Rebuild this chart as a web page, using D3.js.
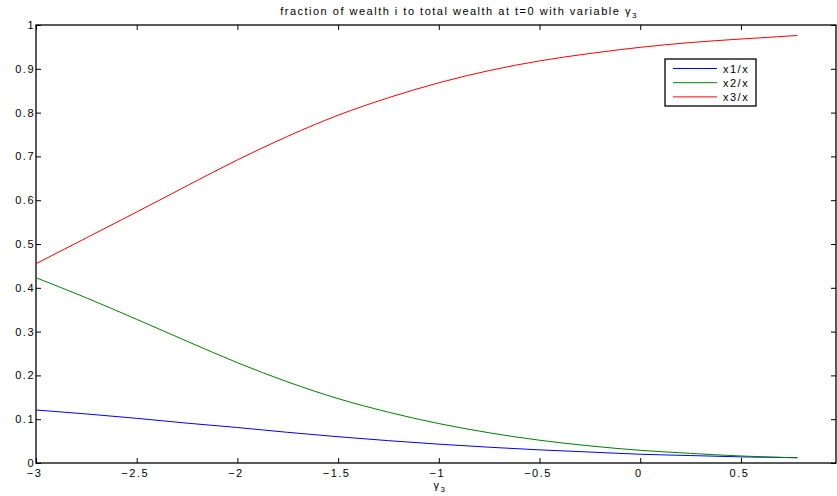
<!DOCTYPE html>
<html>
<head>
<meta charset="utf-8">
<script src="https://cdn.jsdelivr.net/npm/d3@7"></script>
<style>
  body { margin: 0; background: #fff; }
  text { font-family: "Liberation Sans", Arial, sans-serif; letter-spacing: 1.5px; }
</style>
</head>
<body>
<div id="chart"></div>
<script>
// gamma_3 values and wealth fractions
var gamma = [-3, -2.75, -2.5, -2.25, -2, -1.75, -1.5, -1.25, -1, -0.75, -0.5, -0.25, 0, 0.25, 0.5, 0.78];
var x1 = [0.121, 0.112, 0.102, 0.091, 0.081, 0.070, 0.060, 0.051, 0.043, 0.036, 0.030, 0.025, 0.020, 0.017, 0.014, 0.012];
var x2 = [0.423, 0.377, 0.328, 0.278, 0.229, 0.185, 0.147, 0.116, 0.090, 0.069, 0.052, 0.039, 0.029, 0.022, 0.016, 0.012];
var x3 = [0.455, 0.514, 0.573, 0.633, 0.692, 0.746, 0.794, 0.834, 0.868, 0.896, 0.918, 0.935, 0.949, 0.960, 0.968, 0.976];
var xTicks = [-3, -2.5, -2, -1.5, -1, -0.5, 0, 0.5];
var yTicks = [0, 0.1, 0.2, 0.3, 0.4, 0.5, 0.6, 0.7, 0.8, 0.9, 1];
var seriesNames = ["x1/x", "x2/x", "x3/x"];
var seriesColors = ["#0000ff", "#008000", "#ff0000"];

var width = 837, height = 496;
var pLeft = 36, pRight = 836, pTop = 25, pBottom = 463;

var svg = d3.select("#chart").append("svg")
    .attr("width", width).attr("height", height);

var x = d3.scaleLinear().domain([-3, 0.972]).range([pLeft, pRight]);
var y = d3.scaleLinear().domain([0, 1]).range([pBottom, pTop]);

function fmt(d) {
    return String(d).replace("-", "\u2212");
}

// inward ticks on all four sides, like matlab's box
var tl = 5;
svg.append("g").attr("class", "xax").attr("transform", "translate(0," + pBottom + ")")
    .call(d3.axisBottom(x).tickValues(xTicks).tickSize(-tl).tickPadding(6).tickFormat(fmt));
svg.append("g").attr("transform", "translate(0," + pTop + ")")
    .call(d3.axisTop(x).tickValues(xTicks).tickSize(-tl).tickFormat(""));
svg.append("g").attr("class", "yax").attr("transform", "translate(" + pLeft + ",0)")
    .call(d3.axisLeft(y).tickValues(yTicks).tickSize(-tl).tickPadding(1).tickFormat(d3.format("")));
svg.append("g").attr("transform", "translate(" + pRight + ",0)")
    .call(d3.axisRight(y).tickValues(yTicks).tickSize(-tl).tickFormat(""));

svg.selectAll(".domain").remove();
svg.selectAll(".tick line").attr("stroke", "#000");
svg.selectAll(".tick text").attr("fill", "#000").style("font-size", "11px");
// the minus sign pushes labels off centre, matlab centres the digits a bit left
svg.selectAll(".xax .tick text").attr("dx", -2);

svg.append("rect")
    .attr("x", pLeft).attr("y", pTop)
    .attr("width", pRight - pLeft).attr("height", pBottom - pTop)
    .attr("fill", "none").attr("stroke", "#000").attr("stroke-width", 1.3);

var line = d3.line()
    .x(function(d) { return x(d[0]); })
    .y(function(d) { return y(d[1]); })
    .curve(d3.curveMonotoneX);

[x1, x2, x3].forEach(function(vals, i) {
    svg.append("path")
        .datum(d3.zip(gamma, vals))
        .attr("d", line)
        .attr("fill", "none")
        .attr("stroke", seriesColors[i])
        .attr("stroke-width", 1);
});

// title
var title = svg.append("text")
    .attr("x", 459).attr("y", 15)
    .attr("text-anchor", "middle")
    .style("font-size", "11px");
title.append("tspan").text("fraction of wealth i to total wealth at t=0 with variable \u03b3");
title.append("tspan").attr("dy", 3).style("font-size", "8px").text("3");

// x label
var xl = svg.append("text")
    .attr("x", 440).attr("y", 489)
    .attr("text-anchor", "middle")
    .style("font-size", "11px");
xl.append("tspan").text("\u03b3");
xl.append("tspan").attr("dy", 3).style("font-size", "8px").text("3");

// legend
var lg = svg.append("g");
lg.append("rect")
    .attr("x", 665).attr("y", 59)
    .attr("width", 91).attr("height", 47)
    .attr("fill", "#fff").attr("stroke", "#000").attr("stroke-width", 1.3);
seriesNames.forEach(function(name, i) {
    var ly = 68.5 + i * 14.2;
    lg.append("line")
        .attr("x1", 673).attr("x2", 717)
        .attr("y1", ly).attr("y2", ly)
        .attr("stroke", seriesColors[i]);
    lg.append("text")
        .attr("x", 723).attr("y", ly + 4)
        .style("font-size", "11px")
        .text(name);
});
</script>
</body>
</html>
